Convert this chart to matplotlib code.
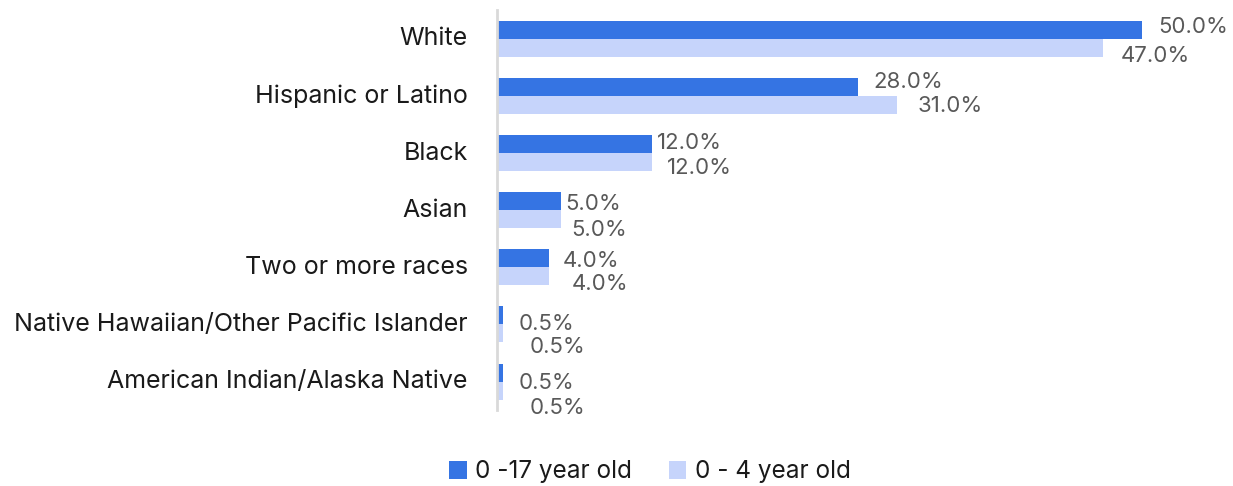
import matplotlib
matplotlib.use("Agg")
import matplotlib.pyplot as plt
import numpy as np

# data
categories = [
    "White",
    "Hispanic or Latino",
    "Black",
    "Asian",
    "Two or more races",
    "Native Hawaiian/Other Pacific Islander",
    "American Indian/Alaska Native",
]
age_0_17 = [50.0, 28.0, 12.0, 5.0, 4.0, 0.5, 0.5]
age_0_4 = [47.0, 31.0, 12.0, 5.0, 4.0, 0.5, 0.5]
series_names = ["0 -17 year old", "0 - 4 year old"]

# label nudges in pixels (dx from bar end, dy from bar centre, down is +)
dark_dx = [16, 15, 5, 3.5, 14, 15.5, 15.5]
dark_dy = [-2.5, -5, -1, 3, 3, 9, 10]
light_dx = [17, 21, 15, 9.5, 23, 26.5, 26.5]
light_dy = [8, 1, 6, 11, 8, 14, 17]

DARK = "#3574e3"
LIGHT = "#c6d4fb"
TEXT = "#1a1a1a"
LABEL = "#595959"
FONT = "Inter"

DPI = 100
fig = plt.figure(figsize=(12.33, 4.86), dpi=DPI)
ax = fig.add_axes([0.403, 0.156, 0.5755, 0.823])

y = np.arange(len(categories))
h = 0.315
ax.barh(y - h / 2, age_0_17, height=h, color=DARK, label=series_names[0])
ax.barh(y + h / 2, age_0_4, height=h, color=LIGHT, label=series_names[1])

px = 72.0 / DPI
for i in range(len(categories)):
    ax.annotate(f"{age_0_17[i]:.1f}%", (age_0_17[i], y[i] - h / 2),
                xytext=(dark_dx[i] * px, -dark_dy[i] * px), textcoords="offset points",
                ha="left", va="center", fontsize=16, color=LABEL, family=FONT)
    ax.annotate(f"{age_0_4[i]:.1f}%", (age_0_4[i], y[i] + h / 2),
                xytext=(light_dx[i] * px, -light_dy[i] * px), textcoords="offset points",
                ha="left", va="center", fontsize=16, color=LABEL, family=FONT)

ax.set_xlim(0, 55)
ax.set_ylim(len(categories) - 0.5, -0.5)
ax.set_yticks(y)
ax.set_yticklabels(categories, fontsize=18, color=TEXT, family=FONT, va="center")
ax.tick_params(axis="y", length=0, pad=21)
ax.set_xticks([])
for side in ["top", "right", "bottom"]:
    ax.spines[side].set_visible(False)
ax.spines["left"].set_color("#d9d9d9")
ax.spines["left"].set_linewidth(2)

fig.legend(loc="center", bbox_to_anchor=(0.527, 0.029), ncol=2, frameon=False,
           handlelength=0.72, handleheight=0.72, handletextpad=0.35, columnspacing=1.5,
           prop={"family": FONT, "size": 17.5})
for t in fig.legends[0].get_texts():
    t.set_color(TEXT)

fig.savefig("out.png", dpi=DPI)
